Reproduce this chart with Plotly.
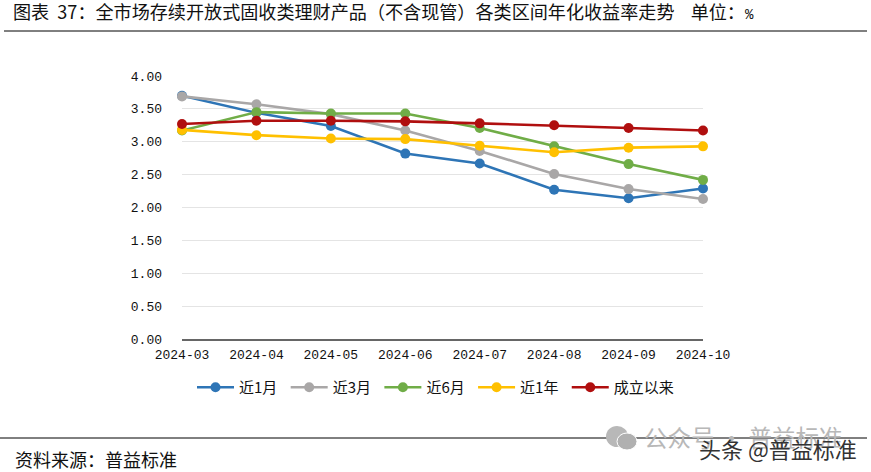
import plotly.graph_objects as go

months = ["2024-03","2024-04","2024-05","2024-06","2024-07","2024-08","2024-09","2024-10"]
m1  = [3.70,3.44,3.24,2.82,2.67,2.27,2.14,2.29]
m3  = [3.69,3.57,3.42,3.17,2.86,2.51,2.28,2.13]
m6  = [3.17,3.45,3.43,3.43,3.21,2.93,2.66,2.42]
y1  = [3.18,3.10,3.05,3.04,2.94,2.84,2.91,2.93]
inc = [3.27,3.32,3.32,3.31,3.28,3.25,3.21,3.17]
names = ["近1月","近3月","近6月","近1年","成立以来"]
colors = ["#2E75B6","#A9A7A7","#70AD47","#FFC000","#B00F0F"]
series = [m1,m3,m6,y1,inc]
yticks = [0,0.5,1,1.5,2,2.5,3,3.5,4]

W,H = 871,472
L,R,T,B = 182,703,76,339
PW,PH = R-L,B-T
def px(x): return (x-L)/PW
def py(y): return (B-y)/PH

FONT = "Noto Sans CJK SC, sans-serif"
MONO = "Liberation Mono, DejaVu Sans Mono, monospace"
fig = go.Figure()
for n,c,s in zip(names,colors,series):
    fig.add_trace(go.Scatter(x=months,y=s,name=n+"\u00a0",mode="lines+markers",cliponaxis=False,
        line=dict(color=c,width=2.6),marker=dict(color=c,size=10)))

fig.update_layout(
    width=W,height=H,margin=dict(l=L,r=W-R,t=T,b=H-B),
    paper_bgcolor="white",plot_bgcolor="white",
    font=dict(family=FONT,size=14,color="#111"),
    showlegend=True,
    legend=dict(orientation="h",x=px(192),xanchor="left",y=py(371),yanchor="top",
                font=dict(size=15,color="#111"),itemwidth=37,
                itemsizing="trace",bgcolor="rgba(0,0,0,0)"),
    xaxis=dict(type="category",range=[0,7],showgrid=False,showline=True,linecolor="#666",linewidth=1.5,
               ticks="",tickfont=dict(size=13,family=MONO,color="#111"),tickangle=0,automargin=False,ticklabelstandoff=3),
    yaxis=dict(range=[0,4],tickvals=yticks,tickformat=".2f",showgrid=True,gridcolor="#E4E4E4",gridwidth=1.2,
               zeroline=False,ticks="",showline=False,tickfont=dict(size=13,family=MONO,color="#111"),automargin=False,ticklabelstandoff=19),
    title=dict(text="图表\u00a0\u00a037：全市场存续开放式固收类理财产品（不含现管）各类区间年化收益率走势\u00a0\u00a0\u00a0\u00a0单位：<span style=\"font-size:14px;font-family:'Liberation Mono'\">%</span>",
               x=13/W,xanchor="left",y=1-13/H,yanchor="middle",font=dict(size=18.1,color="#111",family=FONT)),
    shapes=[
        dict(type="line",xref="paper",yref="paper",x0=px(4),x1=px(867),y0=py(31),y1=py(31),line=dict(color="#000",width=1)),
        dict(type="line",xref="paper",yref="paper",x0=px(0),x1=px(867),y0=py(438),y1=py(438),line=dict(color="#000",width=1)),
        dict(type="circle",xref="paper",yref="paper",x0=px(606),x1=px(628),y0=py(447),y1=py(426),fillcolor="#B8B8B8",line=dict(width=0)),
        dict(type="circle",xref="paper",yref="paper",x0=px(617),x1=px(637),y0=py(450),y1=py(433),fillcolor="#B0B0B0",line=dict(color="white",width=1)),
    ],
    annotations=[
        dict(text="资料来源：普益标准",xref="paper",yref="paper",x=px(13),y=py(458.5),xanchor="left",yanchor="middle",showarrow=False,font=dict(size=18,color="#111")),
        dict(text="公众号\u00a0·\u00a0普益标准",xref="paper",yref="paper",x=px(642),y=py(437),xanchor="left",yanchor="middle",showarrow=False,font=dict(size=23.5,color="#B8B8B8")),
        dict(text="头条\u00a0@普益标准",xref="paper",yref="paper",x=px(697),y=py(448),xanchor="left",yanchor="middle",showarrow=False,font=dict(size=22,color="#333")),
    ],
)
fig.write_html("out.html",config={"displayModeBar":False},post_script="document.body.style.margin='0';")
